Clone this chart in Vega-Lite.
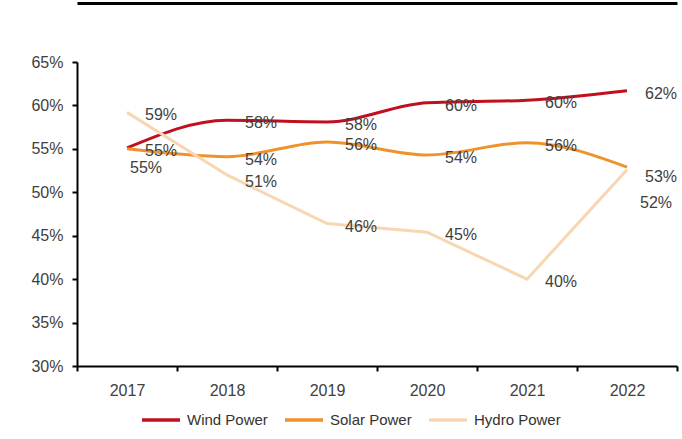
{
  "$schema": "https://vega.github.io/schema/vega-lite/v6.json",
  "width": 600,
  "height": 304,
  "autosize": {"type": "none"},
  "padding": {"left": 77, "top": 62, "right": 5, "bottom": 73},
  "background": "white",
  "config": {
    "view": {"stroke": null},
    "font": "Liberation Sans",
    "text": {"font": "Liberation Sans"}
  },
  "data": {
    "values": [
      {"year": "2017", "series": "Wind Power", "value": 0.551, "label": "55%"},
      {"year": "2018", "series": "Wind Power", "value": 0.583, "label": "58%"},
      {"year": "2019", "series": "Wind Power", "value": 0.581, "label": "58%"},
      {"year": "2020", "series": "Wind Power", "value": 0.603, "label": "60%"},
      {"year": "2021", "series": "Wind Power", "value": 0.606, "label": "60%"},
      {"year": "2022", "series": "Wind Power", "value": 0.617, "label": "62%"},
      {"year": "2017", "series": "Solar Power", "value": 0.550, "label": "55%"},
      {"year": "2018", "series": "Solar Power", "value": 0.541, "label": "54%"},
      {"year": "2019", "series": "Solar Power", "value": 0.558, "label": "56%"},
      {"year": "2020", "series": "Solar Power", "value": 0.543, "label": "54%"},
      {"year": "2021", "series": "Solar Power", "value": 0.557, "label": "56%"},
      {"year": "2022", "series": "Solar Power", "value": 0.529, "label": "53%"},
      {"year": "2017", "series": "Hydro Power", "value": 0.592, "label": "59%"},
      {"year": "2018", "series": "Hydro Power", "value": 0.520, "label": "51%"},
      {"year": "2019", "series": "Hydro Power", "value": 0.464, "label": "46%"},
      {"year": "2020", "series": "Hydro Power", "value": 0.454, "label": "45%"},
      {"year": "2021", "series": "Hydro Power", "value": 0.400, "label": "40%"},
      {"year": "2022", "series": "Hydro Power", "value": 0.526, "label": "52%"}
    ]
  },
  "resolve": {"axis": {"x": "independent", "y": "independent"}},
  "layer": [
    {
      "transform": [{"filter": "datum.series !== 'Hydro Power'"}],
      "mark": {"type": "line", "interpolate": "monotone", "strokeWidth": 3},
      "encoding": {
        "x": {
          "field": "year", "type": "ordinal", "bandPosition": 0.5,
          "scale": {"type": "band", "paddingInner": 0, "paddingOuter": 0},
          "axis": {
            "title": null, "labelAngle": 0, "tickBand": "extent",
            "domainColor": "#000000", "domainWidth": 2,
            "tickColor": "#000000", "tickWidth": 2, "tickSize": 5,
            "labelFont": "Liberation Sans", "labelFontSize": 16, "labelColor": "#404040",
            "labelPadding": 11
          }
        },
        "y": {
          "field": "value", "type": "quantitative",
          "scale": {"domain": [0.3, 0.65], "nice": false, "zero": false},
          "axis": {
            "title": null, "format": ".0%", "values": [0.3, 0.35, 0.4, 0.45, 0.5, 0.55, 0.6, 0.65],
            "grid": false, "domainColor": "#000000", "domainWidth": 2,
            "tickColor": "#000000", "tickWidth": 2, "tickSize": 5,
            "labelFont": "Liberation Sans", "labelFontSize": 16, "labelColor": "#404040",
            "labelPadding": 9
          }
        },
        "color": {
          "field": "series", "type": "nominal",
          "scale": {"domain": ["Wind Power", "Solar Power", "Hydro Power"], "range": ["#C0101E", "#F0922B", "#F9D6B2"]},
          "legend": {
            "title": null, "orient": "none", "direction": "horizontal",
            "legendX": 63, "legendY": 337,
            "symbolType": "stroke", "symbolStrokeWidth": 3.5, "symbolSize": 1444,
            "labelFont": "Liberation Sans", "labelFontSize": 15, "labelColor": "#333333",
            "columnPadding": 10, "labelOffset": 5
          }
        }
      }
    },
    {
      "transform": [{"filter": "datum.series === 'Hydro Power'"}],
      "mark": {"type": "line", "interpolate": "linear", "strokeWidth": 3},
      "encoding": {
        "x": {
          "field": "year", "type": "ordinal", "bandPosition": 0.5,
          "axis": {
            "orient": "top", "title": null, "labels": false, "ticks": false,
            "domainColor": "#000000", "domainWidth": 3, "offset": 59
          }
        },
        "y": {"field": "value", "type": "quantitative", "axis": null},
        "color": {"field": "series", "type": "nominal"}
      }
    },
    {
      "transform": [{"filter": "!((datum.series === 'Solar Power' && (datum.year === '2017' || datum.year === '2022')) || (datum.series === 'Hydro Power' && (datum.year === '2018' || datum.year === '2022')))"}],
      "mark": {"type": "text", "align": "left", "baseline": "middle", "dx": 18, "dy": 3, "fontSize": 16, "color": "#404040", "font": "Liberation Sans"},
      "encoding": {
        "x": {"field": "year", "type": "ordinal", "bandPosition": 0.5, "axis": null},
        "y": {"field": "value", "type": "quantitative", "axis": null},
        "text": {"field": "label"}
      }
    },
    {
      "transform": [{"filter": "datum.series === 'Solar Power' && datum.year === '2017'"}],
      "mark": {"type": "text", "align": "left", "baseline": "middle", "dx": 3, "dy": 19, "fontSize": 16, "color": "#404040", "font": "Liberation Sans"},
      "encoding": {
        "x": {"field": "year", "type": "ordinal", "bandPosition": 0.5, "axis": null},
        "y": {"field": "value", "type": "quantitative", "axis": null},
        "text": {"field": "label"}
      }
    },
    {
      "transform": [{"filter": "datum.series === 'Solar Power' && datum.year === '2022'"}],
      "mark": {"type": "text", "align": "left", "baseline": "middle", "dx": 18, "dy": 10, "fontSize": 16, "color": "#404040", "font": "Liberation Sans"},
      "encoding": {
        "x": {"field": "year", "type": "ordinal", "bandPosition": 0.5, "axis": null},
        "y": {"field": "value", "type": "quantitative", "axis": null},
        "text": {"field": "label"}
      }
    },
    {
      "transform": [{"filter": "datum.series === 'Hydro Power' && datum.year === '2018'"}],
      "mark": {"type": "text", "align": "left", "baseline": "middle", "dx": 18, "dy": 7, "fontSize": 16, "color": "#404040", "font": "Liberation Sans"},
      "encoding": {
        "x": {"field": "year", "type": "ordinal", "bandPosition": 0.5, "axis": null},
        "y": {"field": "value", "type": "quantitative", "axis": null},
        "text": {"field": "label"}
      }
    },
    {
      "transform": [{"filter": "datum.series === 'Hydro Power' && datum.year === '2022'"}],
      "mark": {"type": "text", "align": "left", "baseline": "middle", "dx": 13, "dy": 33, "fontSize": 16, "color": "#404040", "font": "Liberation Sans"},
      "encoding": {
        "x": {"field": "year", "type": "ordinal", "bandPosition": 0.5, "axis": null},
        "y": {"field": "value", "type": "quantitative", "axis": null},
        "text": {"field": "label"}
      }
    }
  ]
}
